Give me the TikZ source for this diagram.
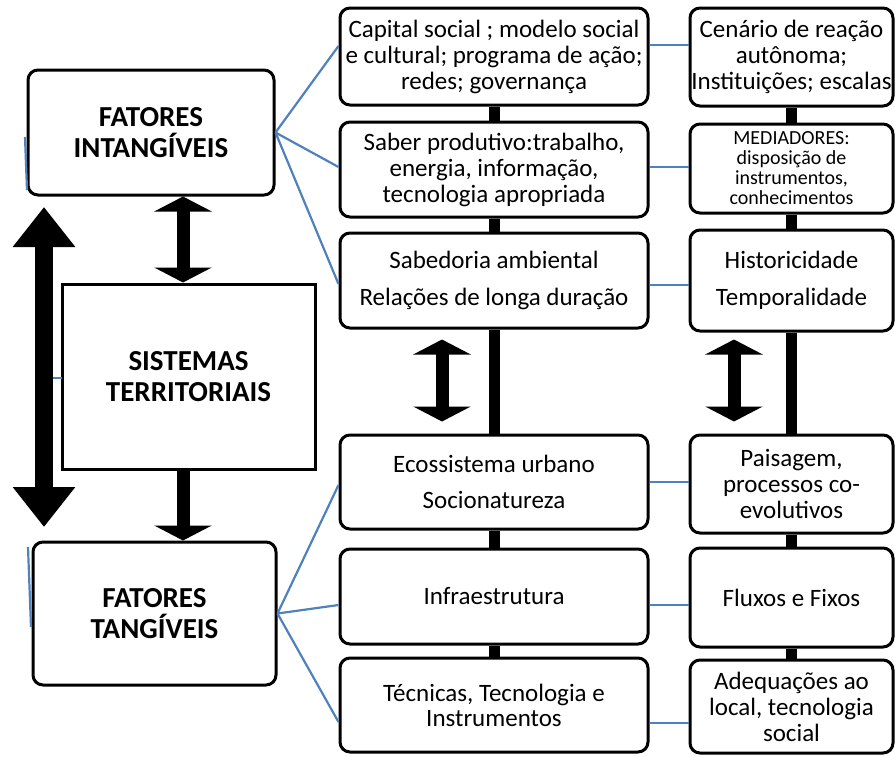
\documentclass[tikz,border=0pt]{standalone}
\usepackage{fontspec}
\setmainfont{Carlito}
\usetikzlibrary{arrows.meta,calc,positioning}
\definecolor{linkblue}{RGB}{79,129,189}

\tikzset{
  box/.style={draw, line width=3pt, rounded corners=10pt, fill=white, align=center,
    inner sep=0pt, font=\fontsize{25}{26}\selectfont},
  title/.style={box, font=\bfseries\fontsize{29}{31}\selectfont},
  mid/.style={box, minimum width=308pt},
  side/.style={box, minimum width=203pt},
  link/.style={draw=linkblue, line width=2.2pt},
  spine/.style={line width=11pt},
  updown/.style={line width=13pt, {Triangle[width=57pt,length=15pt]}-{Triangle[width=57pt,length=15pt]}},
}

\begin{document}
\begin{tikzpicture}[x=1pt,y=-1pt]
        \useasboundingbox (0,0) rectangle (895,756);
        % left column
        \node[title, minimum width=246pt, minimum height=125pt] (intang) at (151,132.5) {FATORES\\INTANGÍVEIS};
        \node[title, rounded corners=0pt, minimum width=253pt, minimum height=185pt] (sist) at (188.5,376.5) {SISTEMAS\\TERRITORIAIS};
        \node[title, minimum width=243pt, minimum height=143pt] (tang) at (154.5,613.5) {FATORES\\TANGÍVEIS};
        % middle column
        \node[mid, minimum height=97pt] (mcap) at (494,56.5) {Capital social ; modelo social\\e cultural; programa de ação;\\redes; governança};
        \node[mid, minimum height=95pt] (msaber) at (494,169.5) {Saber produtivo:trabalho,\\energia, informação,\\tecnologia apropriada};
        \node[mid, minimum height=95pt] (msab) at (494,280.5) {Sabedoria ambiental\\[11pt]Relações de longa duração};
        \node[mid, minimum height=94pt] (meco) at (494,482) {Ecossistema urbano\\[10pt]Socionatureza};
        \node[mid, minimum height=95pt] (minf) at (494,596.5) {Infraestrutura};
        \node[mid, minimum height=94pt] (mtec) at (494,705) {Técnicas, Tecnologia e\\[-1pt]Instrumentos};
        % right column
        \node[side, minimum height=98pt] (rcen) at (791.5,57) {Cenário de reação\\autônoma;\\Instituições; escalas};
        \node[side, minimum height=89pt, font=\fontsize{20}{20}\selectfont] (rmed) at (791.5,168.5) {MEDIADORES:\\disposição de\\instrumentos,\\conhecimentos};
        \node[side, minimum height=101pt] (rhis) at (791.5,280.5) {Historicidade\\[11pt]Temporalidade};
        \node[side, minimum height=98pt] (rpai) at (791.5,484) {Paisagem,\\processos co-\\evolutivos};
        \node[side, minimum height=99pt] (rflu) at (791.5,597.5) {Fluxos e Fixos};
        \node[side, minimum height=93pt] (rade) at (791.5,706.5) {Adequações ao\\local, tecnologia\\social};
        % black spines
        \foreach \a/\b in {mcap/msaber, msaber/msab, msab/meco, meco/minf, minf/mtec,
                           rcen/rmed, rmed/rhis, rhis/rpai, rpai/rflu, rflu/rade}
          \draw[spine] (\a.south) -- (\b.north);
        % blue links
        \draw[link] (intang.east) -- (mcap.west |- 0,46);
        \draw[link] (intang.east) -- (msaber.west |- 0,167);
        \draw[link] (intang.east) -- (msab.west |- 0,284);
        \draw[link] (tang.east) -- (meco.west |- 0,485);
        \draw[link] (tang.east) -- (minf.west |- 0,605);
        \draw[link] (tang.east) -- (mtec.west |- 0,722);
        \foreach \m/\r/\y in {mcap/rcen/45, msaber/rmed/167, msab/rhis/285,
                              meco/rpai/482, minf/rflu/605, mtec/rade/723}
          \draw[link] (\m.east |- 0,\y) -- (\r.west |- 0,\y);
        \draw[link] (25,137) -- (27,190);
        \draw[link] (50,378) -- (62,378);
        \draw[link] (28,547) -- (31,627);
        % arrows
        \coordinate (bigtop) at (44,207);
        \coordinate (bigbot) at (44,527);
        \draw[line width=18pt, {Triangle[width=60pt,length=40pt]}-{Triangle[width=60pt,length=40pt]}] (bigtop) -- (bigbot);
        \draw[updown] (intang.south -| 183,0) -- (sist.north -| 183,0);
        \draw[line width=13pt, -{Triangle[width=57pt,length=15pt]}] (sist.south -| 183,0) -- (tang.north -| 183,0);
        \draw[updown, shorten <=10pt, shorten >=12pt] (msab.south -| 442,0) -- (meco.north -| 442,0);
        \draw[updown, shorten <=7pt, shorten >=12pt] (rhis.south -| 734,0) -- (rpai.north -| 734,0);
\end{tikzpicture}
\end{document}
